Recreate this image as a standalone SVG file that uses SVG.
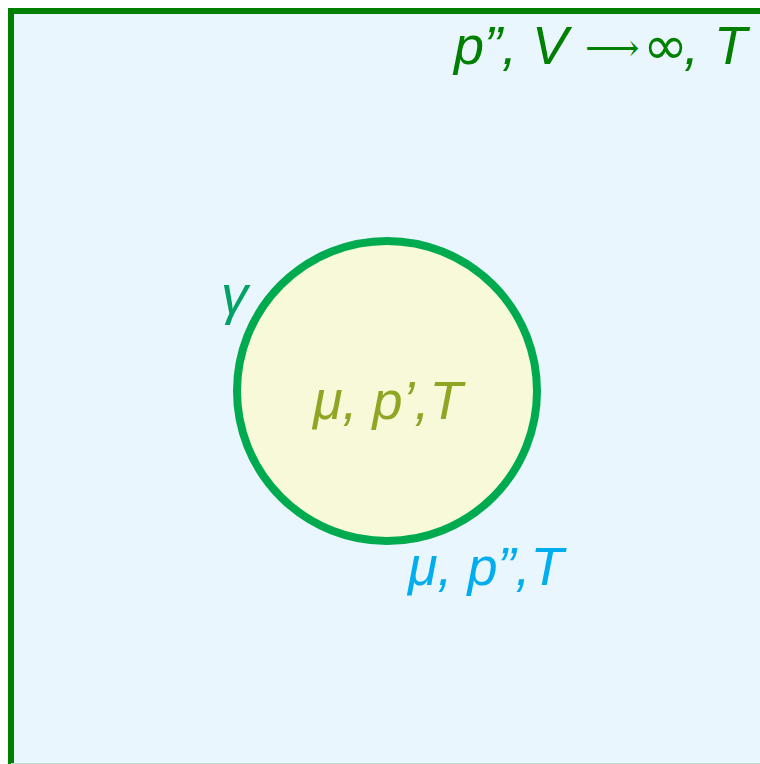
<svg xmlns="http://www.w3.org/2000/svg" width="760" height="764" viewBox="0 0 760 764">
<style>
text{font-family:"Liberation Sans",Arial,sans-serif;font-style:italic;font-size:54px}
</style>
<rect width="760" height="764" fill="#ffffff"/>
<g id="system">
<rect x="11" y="11" width="760" height="760" fill="#eaf6fe"/>
<path d="M11,764 V11 H760" fill="none" stroke="#008000" stroke-width="6"/>
<line x1="11" y1="763.5" x2="760" y2="763.5" stroke="#b8dcc8" stroke-width="1"/>
<text y="64" fill="#008000"><tspan x="454">p”, V</tspan><tspan x="585" font-style="normal" font-family="DejaVu Serif, serif" font-size="38" dy="-3">⟶</tspan><tspan x="643" font-style="normal" font-family="DejaVu Sans, sans-serif" dy="3">∞</tspan><tspan x="684">, T</tspan></text>
<text x="408" y="585" fill="#00aeef">μ, p”,T</text>
</g>
<g id="bubble">
<circle cx="387" cy="391" r="150" fill="#f7f9d9" stroke="#00aa4f" stroke-width="8"/>
<text x="313" y="419" fill="#8fa624">μ, p’,T</text>
</g>
<g id="tension">
<text x="221" y="314" fill="#00a364" font-size="46">γ</text>
</g>
</svg>
